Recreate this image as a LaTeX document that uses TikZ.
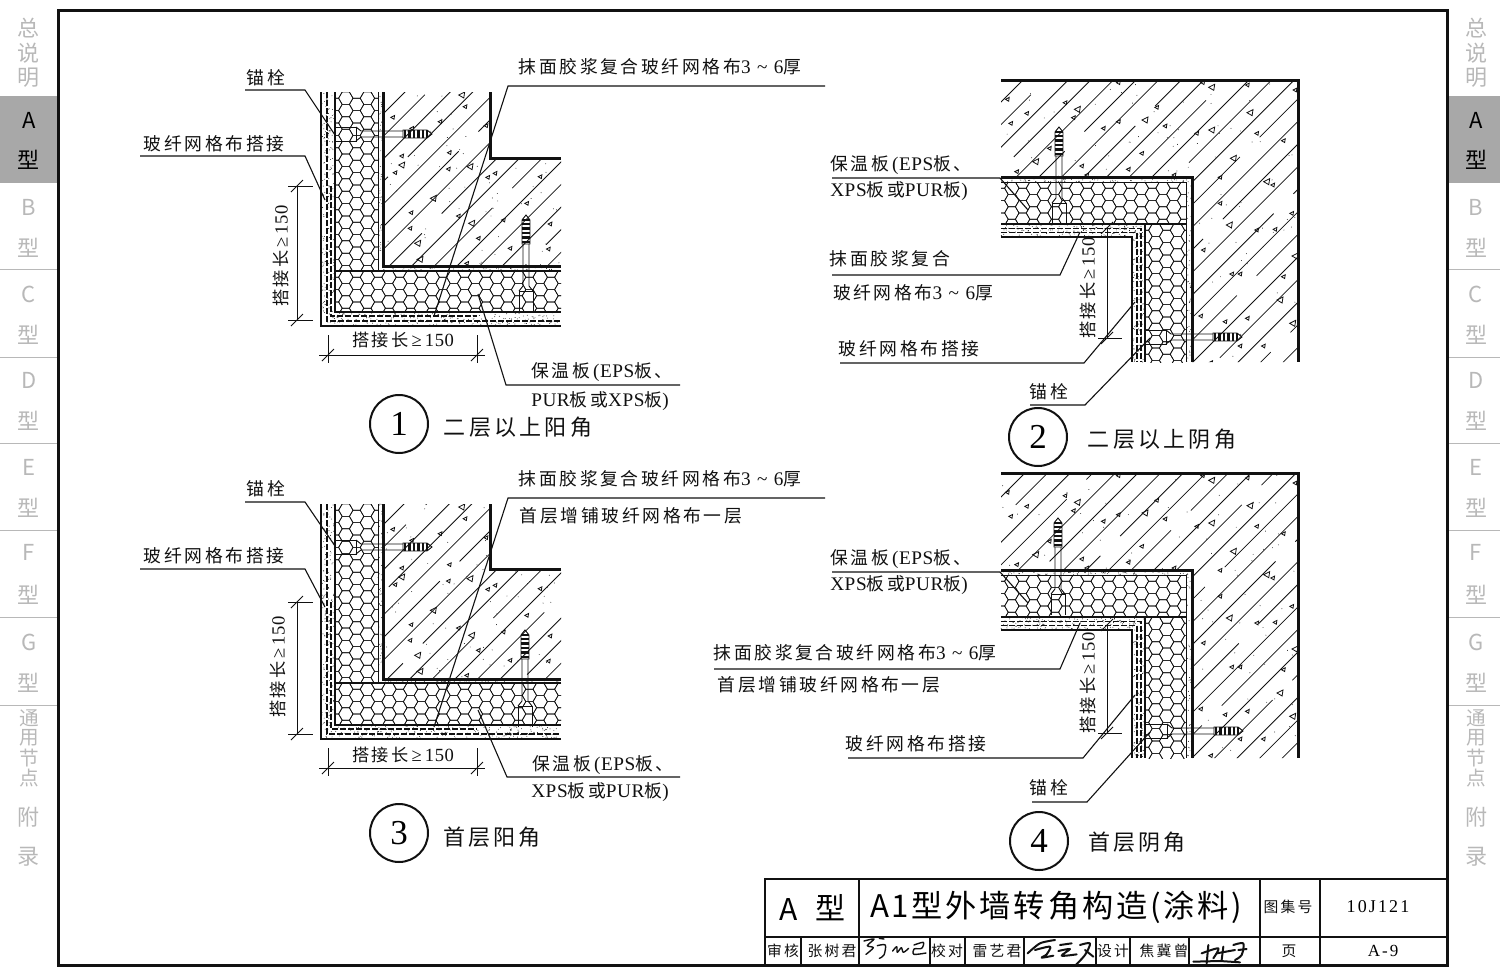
\documentclass[tikz,border=0pt]{standalone}
\usepackage{fontspec}
\setmainfont{Liberation Serif}
\newfontfamily\cjk[LetterSpace=15]{Noto Sans CJK SC}
\newfontfamily\cjktitle[LetterSpace=9]{Noto Sans CJK SC}
\newfontfamily\cjkplain{Noto Sans CJK SC}
\newfontfamily\latsp[LetterSpace=12]{Liberation Serif}
\newfontfamily\latlbl[LetterSpace=3,Scale=1.08]{Liberation Serif}
\newcommand\lat[1]{{\latlbl #1}}
\newcommand\tld{\,\,{\latlbl\char"7E}\,\,}
\newcommand\gedim{\,\lat{≥\,150}}
\definecolor{ink}{HTML}{111111}
\definecolor{sidegray}{HTML}{B8B8B8}
\definecolor{tabgray}{HTML}{A8A8A8}
\tikzset{
  lbl/.style={inner sep=0pt,font=\cjk\fontsize{8.9}{10}\selectfont,text=ink},
  dimlbl/.style={inner sep=0pt,font=\cjk\fontsize{8.6}{10}\selectfont,text=ink},
  sub/.style={inner sep=0pt,font=\cjk\fontsize{11}{12}\selectfont,text=ink},
  smalltb/.style={inner sep=0pt,font=\cjk\fontsize{7.4}{9}\selectfont,text=ink},
  circ/.style={circle,draw=ink,line width=1pt,minimum size=29pt,inner sep=0pt,font=\rmfamily\fontsize{17.5}{20}\selectfont},
  leader/.style={line width=.55pt,draw=ink},
  dimln/.style={line width=.5pt,draw=ink},
  heavy/.style={line width=1.5pt,draw=ink},
  med/.style={line width=.9pt,draw=ink},
  thinl/.style={line width=.45pt,draw=ink},
  hexl/.style={line width=.33pt,draw=ink},
  hatchl/.style={line width=.4pt,draw=ink},
  tril/.style={line width=.4pt,draw=ink},
  mort/.style={line width=.7pt,draw=ink,dash pattern=on 3pt off 1pt},
  sig/.style={line width=.7pt,draw=ink,line cap=round,line join=round},
  sd/.style={inner sep=0pt,text=sidegray,font=\cjkplain\fontsize{11}{12}\selectfont},
  sds/.style={sd,font=\cjkplain\fontsize{9.8}{11}\selectfont},
}
% honeycomb in a rectangle
\newcommand\hexes[4]{\begin{scope}
  \clip (#1,#2) rectangle (#3,#4);
  \pgfmathtruncatemacro\nc{(#3-#1)/10.8+1}
  \pgfmathtruncatemacro\nr{(#4-#2)/12.4+1}
  \foreach \i in {0,...,\nc}{\foreach \j in {0,...,\nr}{
    \pgfmathsetmacro\cx{#1+\i*10.8}
    \pgfmathsetmacro\cy{#2+\j*12.4+mod(\i,2)*6.2}
    \draw[hexl] (\cx-7.2,\cy)--(\cx-3.6,\cy-6.2)--(\cx+3.6,\cy-6.2)--(\cx+7.2,\cy)--(\cx+3.6,\cy+6.2)--(\cx-3.6,\cy+6.2)--cycle;
  }}
\end{scope}}
% diagonal hatching, lines x+y=const, every other one broken
\newcommand\hatchfrom[2]{\foreach \k in {0,...,#2}{
  \pgfmathsetmacro\uu{#1+22.6*\k}
  \ifodd\k
    \draw[hatchl,dash pattern=on 62pt off 14pt,dash phase=\k*9pt] (\uu,0)--(\uu-1000,1000);
  \else
    \draw[hatchl] (\uu,0)--(\uu-1000,1000);
  \fi}}
% speckle
\newcommand\specks[5]{\foreach \k in {1,...,#5}{
  \pgfmathsetmacro\sx{#1+rnd*(#3-#1)}
  \pgfmathsetmacro\sy{#2+rnd*(#4-#2)}
  \fill[ink] (\sx,\sy) circle (.45);}}
% triangles given in 3x crop coordinates
\newcommand\tris[1]{\foreach \a/\b [count=\c] in {#1}{
  \pgfmathsetmacro\s{mod(\c,4)==0 ? 3.0 : 1.9}
  \draw[tril] (\a/3-\s,\b/3)--(\a/3+\s,\b/3-\s)--(\a/3+\s*.7,\b/3+\s)--cycle;}}
% wall anchor
\newcommand\boltplug[3]{\begin{scope}[shift={(#1,#2)},rotate=#3]
  \draw[thinl] (0,-7)--(21,-7)--(21,7)--(0,7);
  \draw[thinl] (21,-7)--(26,-3)--(68,-3) (21,7)--(26,3)--(68,3);
  \draw[thinl] (68,-4)--(92,-4)--(97,0)--(92,4)--(68,4)--cycle;
  \foreach \r in {70,74.5,79,83.5,88,92}{\draw[line width=1.1pt,ink] (\r,-3.6)--(\r,3.6);}
\end{scope}}
% dimension tick: slash
\newcommand\tick[2]{\draw[dimln] (#1-6,#2+6)--(#1+6,#2-6);}
% outer corner detail (panels 1 and 3)
\newcommand\outerdetail[8]{%
  \begin{scope}
    \clip (383,#1)--(490,#1)--(490,#2)--(561,#2)--(561,#3)--(383,#3)--cycle;
    \hatchfrom{#7}{17}
    \specks{383}{#1}{561}{#3}{70}
    \begin{scope}[shift={(240,#8)}]
    \tris{458/172,515/205,600/185,665/105,675/140,738/197,485/288,485/315,465/338,628/278,625/327,690/320,765/340,743/352,900/350,580/415,860/430,513/458,655/468,695/490,790/480,930/492,510/505,533/550,715/535,810/565,925/567,540/598,680/610}
    \end{scope}
  \end{scope}
  \hexes{335}{#1}{378}{#4}
  \hexes{335}{#4}{561}{#5}
  \specks{378}{#1}{383}{#3}{60}
  \specks{378}{#3}{561}{#4}{100}
  \specks{321}{#1}{335}{#6}{220}
  \specks{335}{#5}{561}{#6}{220}
  \draw[heavy] (383,#1)--(383,#3)--(561,#3);
  \draw[heavy] (490,#1)--(490,#2)--(561,#2);
  \draw[thinl] (378,#1)--(378,#4);
  \draw[med] (335,#4)--(561,#4);
  \draw[heavy,line width=1.2pt] (335,#1)--(335,#5)--(561,#5);
  \draw[med] (321,#1)--(321,#6)--(561,#6);
  \draw[mort] (327,#1)--(327,#6-5)--(561,#6-5);
}
% inner corner detail (panels 2 and 4)
\newcommand\innerdetail[8]{%
  \begin{scope}
    \clip (1001,#1)--(1298,#1)--(1298,#6)--(1192,#6)--(1192,#2)--(1001,#2)--cycle;
    \hatchfrom{#7}{27}
    \specks{1001}{#1}{1298}{#6}{120}
    \begin{scope}[shift={(990,#8)}]
    \tris{52/88,225/98,110/130,262/118,250/143,62/160,178/235,137/275,80/305,385/38,638/38,665/52,772/45,915/60,500/112,465/150,385/155,340/175,525/168,665/180,800/190,880/212,620/190,780/128,455/250,275/288,415/298,730/265,290/315,552/315,690/322,830/335,848/345,690/400,905/430,718/465,800/480,855/478,640/540,915/558,725/612,750/612,880/620,870/690,632/738,705/755,772/745,908/760,750/828,820/828,662/878}
    \end{scope}
  \end{scope}
  \hexes{1001}{#3}{1186}{#4}
  \hexes{1145}{#4}{1186}{#6}
  \specks{1001}{#2}{1192}{#3}{100}
  \specks{1186}{#3}{1192}{#6}{60}
  \specks{1001}{#4}{1145}{#5}{160}
  \specks{1132}{#5}{1145}{#6}{120}
  \draw[heavy] (1001,#1)--(1298,#1)--(1298,#6);
  \draw[heavy] (1001,#2)--(1192,#2)--(1192,#6);
  \draw[thinl] (1001,#3)--(1186,#3)--(1186,#6);
  \draw[med] (1001,#4)--(1186,#4) (1145,#4)--(1145,#6);
  \draw[med] (1001,#5)--(1132,#5)--(1132,#6);
  \draw[mort] (1001,#4+4.5)--(1141,#4+4.5)--(1141,#6);
  \draw[mort] (1001,#4+8.5)--(1137,#4+8.5)--(1137,#6);
}
\newcommand\sidecol[1]{%
  \fill[tabgray] (#1-29,96) rectangle (#1+29,183);
  \foreach \y/\t [count=\c] in {28/总,53/说,78/明,207/B,248/型,294/C,335/型,380/D,421/型,467/E,508/型,552/F,595/型,642/G,683/型,817/附,857/录}{
    \node[sd] (side#1n\c) at (#1,\y) {\t};}
  \foreach \y/\t [count=\c] in {718/通,738/用,758/节,778/点}{
    \node[sds] (side#1m\c) at (#1,\y) {\t};}
  \node[sd,text=black] (side#1a) at (#1,120) {A};
  \node[sd,text=black] (side#1b) at (#1,160) {型};
  \foreach \y in {269,357,443,530,617,705}{\draw[line width=.4pt,sidegray] (#1-29,\y)--(#1+29,\y);}
}
\begin{document}
\begin{tikzpicture}[x=0.5pt,y=-0.5pt]
\useasboundingbox (0,0) rectangle (1500,975);
\pgfmathsetseed{4217}
\sidecol{29}
\sidecol{1476}
\draw[heavy,fill=white] (58,10) rectangle (1447,965);

% ---------- panel 1
\outerdetail{92}{158}{266}{271}{312}{326}{497}{60}
\draw[mort] (331,186)--(331,316)--(477,316);
\boltplug{335}{134}{0}
\boltplug{526}{312}{90}
\coordinate (d1a) at (297,186); \coordinate (d1b) at (297,320);
\draw[dimln] (d1a)--(d1b) (288,186)--(313,186) (288,320)--(313,320);
\tick{297}{186}\tick{297}{320}
\node[dimlbl,rotate=90] (t1d) at (281,256) {搭接长\gedim};
\draw[dimln] (319,355)--(485,355) (328,335)--(328,363) (477,335)--(477,363);
\tick{328}{355}\tick{477}{355}
\node[dimlbl] (t1e) at (403,340) {搭接长\gedim};
\node[lbl] (t1a) at (266,78) {锚栓};
\coordinate (l1a0) at (245,90); \coordinate (l1a1) at (305,90); \coordinate (l1a2) at (335,135);
\draw[leader] (l1a0)--(l1a1)--(l1a2);
\node[lbl] (t1b) at (214,144) {玻纤网格布搭接};
\coordinate (l1b0) at (140,156); \coordinate (l1b1) at (305,156); \coordinate (l1b2) at (325,200);
\draw[leader] (l1b0)--(l1b1)--(l1b2);
\node[lbl] (t1c) at (660,67) {抹面胶浆复合玻纤网格布\lat{3\tld 6}厚};
\coordinate (l1c0) at (825,86); \coordinate (l1c1) at (508,86); \coordinate (l1c2) at (434,316);
\draw[leader] (l1c0)--(l1c1)--(l1c2);
\node[lbl] (t1f) at (602,372) {保温板\,\lat{(EPS}板、};
\node[lbl] (t1g) at (600,401) {\lat{PUR}板或\lat{XPS}板\lat{)}};
\coordinate (l1f0) at (680,385); \coordinate (l1f1) at (506,385); \coordinate (l1f2) at (478,294);
\draw[leader] (l1f0)--(l1f1)--(l1f2);
\node[circ] (c1) at (399,424) {1};
\node[sub] (s1) at (518,427) {二层以上阳角};

% ---------- panel 2
\innerdetail{80}{177}{182}{224}{237}{362}{1103}{70}
\boltplug{1059}{224}{90}
\boltplug{1145}{337}{0}
\coordinate (d2a) at (1107,228); \coordinate (d2b) at (1107,338);
\draw[dimln] (d2a)--(d2b) (1098,338)--(1122,338);
\tick{1107}{338}\tick{1107}{228}
\node[dimlbl,rotate=90] (t2d) at (1088,288) {搭接长\gedim};
\node[lbl] (t2a) at (901,165) {保温板\,\lat{(EPS}板、};
\node[lbl] (t2b) at (899,191) {\lat{XPS}板或\lat{PUR}板\lat{)}};
\coordinate (l2a0) at (832,178); \coordinate (l2a1) at (1000,178); \coordinate (l2a2) at (1028,210);
\draw[leader] (l2a0)--(l2a1)--(l2a2);
\node[lbl] (t2c) at (890,259) {抹面胶浆复合};
\node[lbl] (t2e) at (913,293) {玻纤网格布\lat{3\tld 6}厚};
\coordinate (l2c0) at (832,275); \coordinate (l2c1) at (1060,275); \coordinate (l2c2) at (1080,232);
\draw[leader] (l2c0)--(l2c1)--(l2c2);
\node[lbl] (t2f) at (909,349) {玻纤网格布搭接};
\coordinate (l2f0) at (840,363); \coordinate (l2f1) at (1084,363); \coordinate (l2f2) at (1135,302);
\draw[leader] (l2f0)--(l2f1)--(l2f2);
\node[lbl] (t2g) at (1049,392) {锚栓};
\coordinate (l2g0) at (1030,405); \coordinate (l2g1) at (1085,405); \coordinate (l2g2) at (1150,338);
\draw[leader] (l2g0)--(l2g1)--(l2g2);
\node[circ] (c2) at (1038,437) {2};
\node[sub] (s2) at (1162,439) {二层以上阴角};

% ---------- panel 3
\outerdetail{504}{569}{679}{683}{725}{739}{908}{472}
\draw[mort] (331,602)--(331,729)--(477,729);
\boltplug{335}{547}{0}
\boltplug{525}{727}{90}
\coordinate (d3a) at (297,602); \coordinate (d3b) at (297,734);
\draw[dimln] (d3a)--(d3b) (288,602)--(313,602) (288,734)--(313,734);
\tick{297}{602}\tick{297}{734}
\node[dimlbl,rotate=90] (t3d) at (278,667) {搭接长\gedim};
\draw[dimln] (319,768)--(485,768) (328,748)--(328,776) (477,748)--(477,776);
\tick{328}{768}\tick{477}{768}
\node[dimlbl] (t3e) at (403,755) {搭接长\gedim};
\node[lbl] (t3a) at (266,489) {锚栓};
\coordinate (l3a0) at (245,502); \coordinate (l3a1) at (305,502); \coordinate (l3a2) at (335,546);
\draw[leader] (l3a0)--(l3a1)--(l3a2);
\node[lbl] (t3b) at (214,556) {玻纤网格布搭接};
\coordinate (l3b0) at (140,569); \coordinate (l3b1) at (305,569); \coordinate (l3b2) at (325,607);
\draw[leader] (l3b0)--(l3b1)--(l3b2);
\node[lbl] (t3c) at (660,479) {抹面胶浆复合玻纤网格布\lat{3\tld 6}厚};
\node[lbl] (t3h) at (631,516) {首层增铺玻纤网格布一层};
\coordinate (l3c0) at (825,498); \coordinate (l3c1) at (508,498); \coordinate (l3c2) at (434,727);
\draw[leader] (l3c0)--(l3c1)--(l3c2);
\node[lbl] (t3f) at (603,765) {保温板\,\lat{(EPS}板、};
\node[lbl] (t3g) at (600,792) {\lat{XPS}板或\lat{PUR}板\lat{)}};
\coordinate (l3f0) at (680,777); \coordinate (l3f1) at (507,777); \coordinate (l3f2) at (478,710);
\draw[leader] (l3f0)--(l3f1)--(l3f2);
\node[circ] (c3) at (399,833) {3};
\node[sub] (s3) at (492,837) {首层阳角};

% ---------- panel 4
\innerdetail{473}{570}{575}{617}{630}{758}{1498}{463}
\boltplug{1058}{615}{90}
\boltplug{1146}{731}{0}
\coordinate (d4a) at (1107,625); \coordinate (d4b) at (1107,733);
\draw[dimln] (d4a)--(d4b) (1098,733)--(1122,733);
\tick{1107}{733}\tick{1107}{625}
\node[dimlbl,rotate=90] (t4d) at (1088,683) {搭接长\gedim};
\node[lbl] (t4a) at (901,559) {保温板\,\lat{(EPS}板、};
\node[lbl] (t4b) at (899,585) {\lat{XPS}板或\lat{PUR}板\lat{)}};
\coordinate (l4a0) at (832,572); \coordinate (l4a1) at (1000,572); \coordinate (l4a2) at (1028,603);
\draw[leader] (l4a0)--(l4a1)--(l4a2);
\node[lbl] (t4c) at (855,653) {抹面胶浆复合玻纤网格布\lat{3\tld 6}厚};
\node[lbl] (t4e) at (829,685) {首层增铺玻纤网格布一层};
\coordinate (l4c0) at (714,669); \coordinate (l4c1) at (1060,669); \coordinate (l4c2) at (1080,623);
\draw[leader] (l4c0)--(l4c1)--(l4c2);
\node[lbl] (t4f) at (916,744) {玻纤网格布搭接};
\coordinate (l4f0) at (848,758); \coordinate (l4f1) at (1083,758); \coordinate (l4f2) at (1135,695);
\draw[leader] (l4f0)--(l4f1)--(l4f2);
\node[lbl] (t4g) at (1049,788) {锚栓};
\coordinate (l4g0) at (1032,802); \coordinate (l4g1) at (1087,802); \coordinate (l4g2) at (1150,732);
\draw[leader] (l4g0)--(l4g1)--(l4g2);
\node[circ] (c4) at (1039,841) {4};
\node[sub] (s4) at (1137,842) {首层阴角};

% ---------- title block
\draw[med,line width=1.1pt] (765,965)--(765,879)--(1447,879);
\draw[med] (765,937)--(1447,937);
\foreach \x in {859,1260,1320}{\draw[thinl,line width=.6pt] (\x,879)--(\x,965);}
\foreach \x in {801,930,965,1024,1096,1130,1189}{\draw[thinl,line width=.6pt] (\x,937)--(\x,965);}
\node[inner sep=0pt,font=\cjkplain\fontsize{15}{16}\selectfont] (tA) at (789,909) {A};
\node[inner sep=0pt,font=\cjkplain\fontsize{15}{16}\selectfont] (tX) at (830,908) {型};
\node[inner sep=0pt,font=\cjktitle\fontsize{15.6}{17}\selectfont] (tT) at (1056,907) {A1型外墙转角构造(涂料)};
\node[smalltb] (tj) at (1288,907) {图集号};
\node[inner sep=0pt,font=\latsp\fontsize{9}{10}\selectfont] (tn) at (1378,907) {10J121};
\node[smalltb] (th1) at (783,951) {审核};
\node[smalltb] (th2) at (832,951) {张树君};
\node[smalltb] (th3) at (947,951) {校对};
\node[smalltb] (th4) at (997,951) {雷艺君};
\node[smalltb] (th5) at (1113,951) {设计};
\node[smalltb] (th6) at (1164,951) {焦冀曾};
\node[smalltb] (th7) at (1289,951) {页};
\node[inner sep=0pt,font=\latsp\fontsize{8.5}{10}\selectfont] (th8) at (1383,951) {A-9};
\begin{scope}[shift={(760,925)},scale=1/3]
\draw[sig] plot[smooth] coordinates {(312,48)(342,42)(322,62)(340,68)(318,88)};
\draw[sig] (358,40)--(372,42);
\draw[sig] plot[smooth] coordinates {(352,62)(376,60)(372,90)(358,100)};
\draw[sig] plot[smooth] coordinates {(398,78)(410,65)(412,82)(424,68)(430,82)(446,70)};
\draw[sig] plot[smooth] coordinates {(462,60)(490,52)(485,70)(462,72)(462,88)(498,84)};
\draw[sig,line width=1pt] plot[smooth] coordinates {(803,85)(840,55)(885,45)};
\draw[sig,line width=1pt] plot[smooth] coordinates {(825,75)(870,65)(860,88)(845,98)(880,92)};
\draw[sig,line width=1pt] (900,60)--(935,55);
\draw[sig,line width=1pt] plot[smooth] coordinates {(895,78)(930,72)(905,92)(950,88)};
\draw[sig,line width=1pt] plot[smooth] coordinates {(960,60)(990,55)(975,90)(945,122)};
\draw[sig,line width=1pt] (975,75)--(1000,95);
\draw[sig,line width=1pt] (1300,110)--(1380,108)--(1440,112);
\draw[sig,line width=1pt] (1345,60)--(1340,115);
\draw[sig,line width=1pt] plot[smooth] coordinates {(1325,85)(1375,70)(1360,100)};
\draw[sig,line width=1pt] (1390,65)--(1385,105);
\draw[sig,line width=1pt] (1370,85)--(1425,75);
\draw[sig,line width=1pt] plot[smooth] coordinates {(1420,60)(1450,55)(1445,90)(1425,105)};
\draw[sig,line width=1pt] (1435,75)--(1460,72);
\end{scope}
\end{tikzpicture}
\end{document}
